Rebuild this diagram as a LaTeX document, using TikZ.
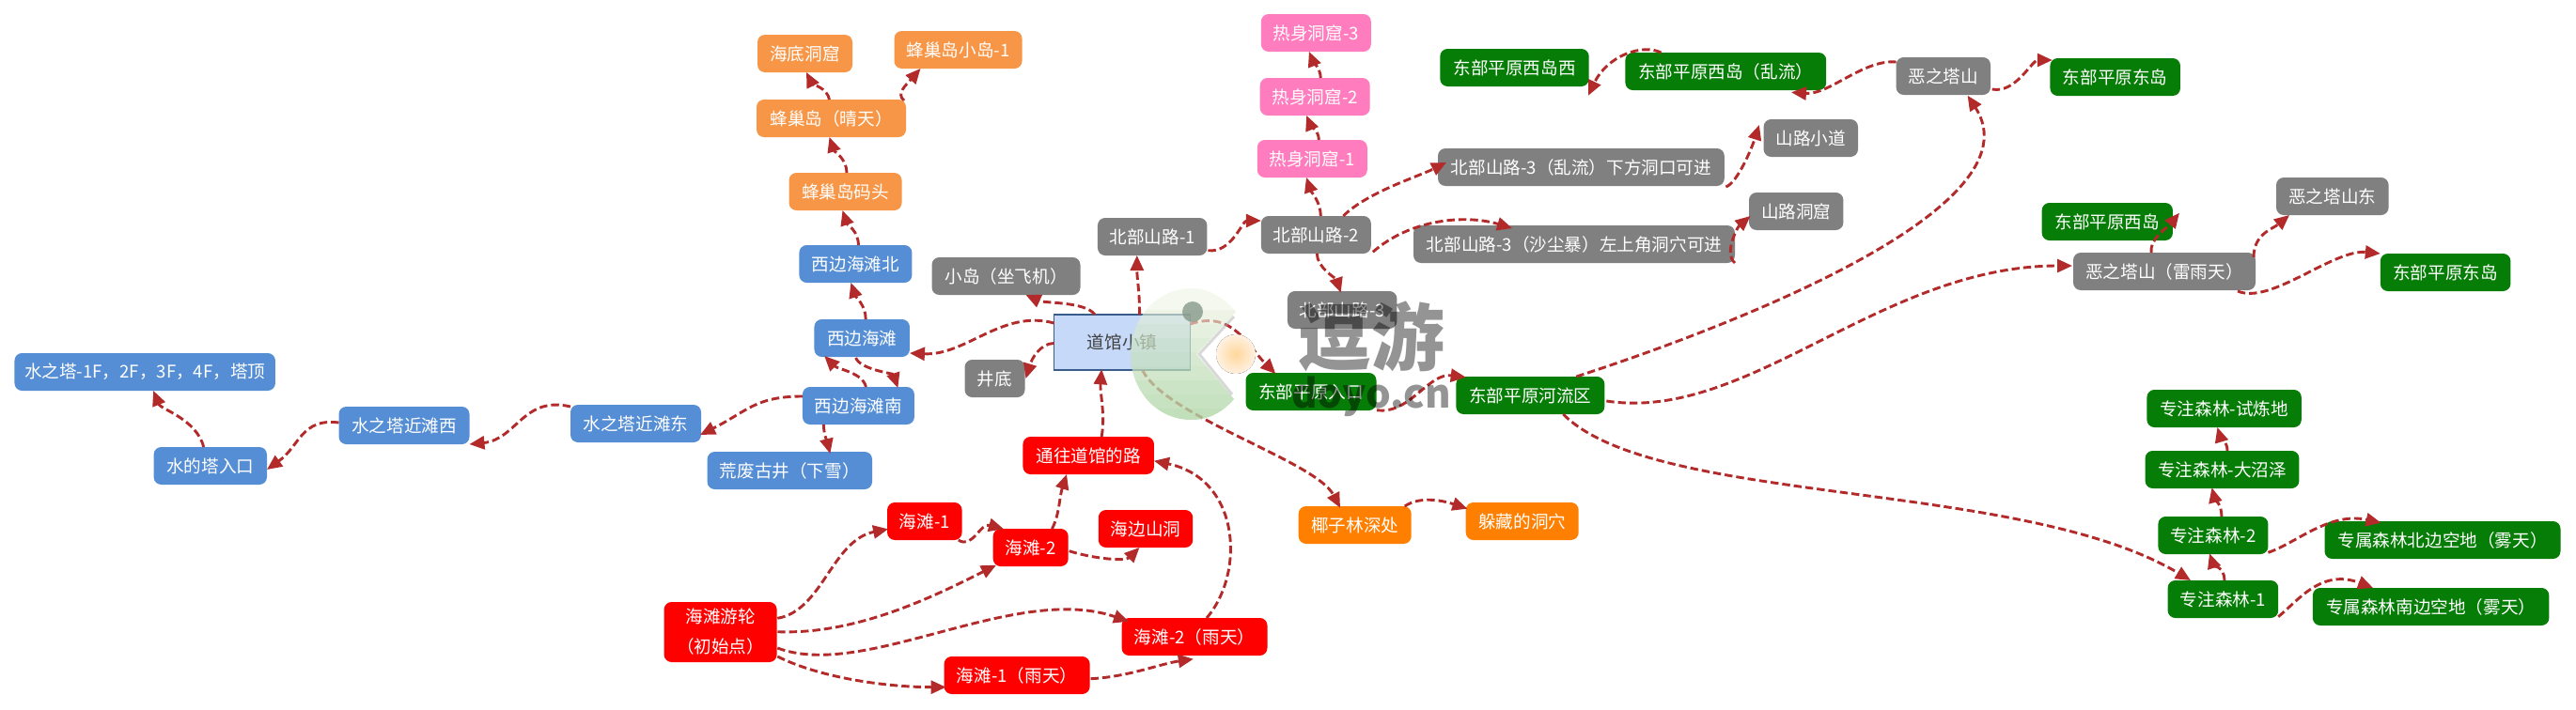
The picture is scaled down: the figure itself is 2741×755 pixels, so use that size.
\documentclass[tikz,border=0pt]{standalone}
\usepackage{fontspec}
\setmainfont{Noto Sans CJK SC}
\usetikzlibrary{arrows.meta}
\definecolor{seablue}{HTML}{558ED5}
\definecolor{hiveorange}{HTML}{F79646}
\definecolor{warmpink}{HTML}{FF7DBE}
\definecolor{palmorange}{HTML}{FF8000}
\definecolor{plaingreen}{HTML}{067D06}
\definecolor{routered}{HTML}{B22A2A}
\definecolor{townfill}{HTML}{C6D9F8}
\definecolor{townline}{HTML}{385D8A}
\definecolor{logotop}{HTML}{EEF4E2}
\definecolor{logobot}{HTML}{8FC98A}
\definecolor{logoeye}{HTML}{7F9384}
\definecolor{ballin}{HTML}{FFD79A}
\definecolor{ballout}{HTML}{FFF1E2}
\begin{document}
\begin{tikzpicture}[>={Triangle[length=8pt,width=7pt]},x=.5pt,y=-.5pt,
	spot/.style={rounded corners=4pt,minimum height=20pt,inner sep=0pt,outer sep=0pt,text=white,font=\fontsize{9.3pt}{16pt}\selectfont,align=center},
	sea/.style={spot,fill=seablue},
	hive/.style={spot,fill=hiveorange},
	warm/.style={spot,fill=warmpink},
	rock/.style={spot,fill=gray},
	plain/.style={spot,fill=plaingreen},
	beach/.style={spot,fill=red},
	palm/.style={spot,fill=palmorange},
	route/.style={->,draw=routered,line width=1.45pt,dash pattern=on 4.2pt off 2pt}]
	\useasboundingbox (0,0) rectangle (2741,755);
	\node [sea,minimum width=138.75pt] at (154.2,396) (tower) {水之塔-1F，2F，3F，4F，塔顶};
	\node [sea,minimum width=60.2pt] at (223.8,496) (towerin) {水的塔入口};
	\node [sea,minimum width=69.5pt] at (430,453) (nearw) {水之塔近滩西};
	\node [sea,minimum width=69.5pt] at (676.5,451) (neare) {水之塔近滩东};
	\node [sea,minimum width=59.5pt] at (913.4,432) (wests) {西边海滩南};
	\node [sea,minimum width=87.7pt] at (840.3,501) (oldwell) {荒废古井（下雪）};
	\node [sea,minimum width=50.75pt] at (917.2,360) (west) {西边海滩};
	\node [sea,minimum width=60pt] at (910.4,281) (westn) {西边海滩北};
	\node [hive,minimum width=60pt] at (899.5,204) (wharf) {蜂巢岛码头};
	\node [hive,minimum width=79.5pt] at (884.5,126) (isle) {蜂巢岛（晴天）};
	\node [hive,minimum width=50.5pt] at (856.5,57) (seacave) {海底洞窟};
	\node [hive,minimum width=68pt] at (1019.5,53) (isleone) {蜂巢岛小岛-1};
	\node [rock,minimum width=79pt] at (1070.5,294) (islet) {小岛（坐飞机）};
	\node [rock,minimum width=32pt] at (1058.5,403) (wellbot) {井底};
	\node [minimum width=72.5pt,minimum height=29.5pt,inner sep=0pt,outer sep=0pt,draw=townline,line width=.6pt,fill=townfill,text=black!75,font=\fontsize{9.3pt}{16pt}\selectfont] at (1194,364.5) (town) {道馆小镇};
	\node [rock,minimum width=58.25pt] at (1226.2,252) (northa) {北部山路-1};
	\node [rock,minimum width=58.5pt] at (1400.3,250) (northb) {北部山路-2};
	\node [rock,minimum width=58.25pt] at (1428.2,330) (northc) {北部山路-3};
	\node [warm,minimum width=58.5pt] at (1396.3,169) (warma) {热身洞窟-1};
	\node [warm,minimum width=58.5pt] at (1399.2,103) (warmb) {热身洞窟-2};
	\node [warm,minimum width=58.5pt] at (1400.3,35) (warmc) {热身洞窟-3};
	\node [rock,minimum width=152.4pt] at (1682.4,178) (turb) {北部山路-3（乱流）下方洞口可进};
	\node [rock,minimum width=171pt] at (1675,260) (sand) {北部山路-3（沙尘暴）左上角洞穴可进};
	\node [rock,minimum width=50.2pt] at (1926.8,147) (trail) {山路小道};
	\node [rock,minimum width=50.2pt] at (1911.2,225) (trailcave) {山路洞窟};
	\node [plain,minimum width=69.5pt] at (1395,417) (eastin) {东部平原入口};
	\node [plain,minimum width=79pt] at (1628.3,421) (river) {东部平原河流区};
	\node [plain,minimum width=79.2pt] at (1611.5,72) (westiw) {东部平原西岛西};
	\node [plain,minimum width=106.9pt] at (1836.3,76) (westi) {东部平原西岛（乱流）};
	\node [rock,minimum width=50.2pt] at (2067.8,81) (evil) {恶之塔山};
	\node [plain,minimum width=69.25pt] at (2250.7,82) (easti) {东部平原东岛};
	\node [plain,minimum width=69.65pt] at (2242.3,236) (westib) {东部平原西岛};
	\node [rock,minimum width=59.8pt] at (2481.8,209) (evile) {恶之塔山东};
	\node [rock,minimum width=97pt] at (2303,289) (evilr) {恶之塔山（雷雨天）};
	\node [plain,minimum width=69.3pt] at (2602.1,290) (eastib) {东部平原东岛};
	\node [plain,minimum width=82.2pt] at (2366.6,435) (trial) {专注森林-试炼地};
	\node [plain,minimum width=81.9pt] at (2364.5,500) (swamp) {专注森林-大沼泽};
	\node [plain,minimum width=58.5pt] at (2354.9,570) (focusb) {专注森林-2};
	\node [plain,minimum width=58.8pt] at (2365.4,638) (focusa) {专注森林-1};
	\node [plain,minimum width=125.5pt] at (2599,575) (plotn) {专属森林北边空地（雾天）};
	\node [plain,minimum width=125.75pt] at (2586.6,646) (plots) {专属森林南边空地（雾天）};
	\node [beach,minimum width=60pt,minimum height=32pt] at (766.6,673) (cruise) {海滩游轮\\（初始点）};
	\node [beach,minimum width=39.75pt] at (983.8,555) (beacha) {海滩-1};
	\node [beach,minimum width=40pt] at (1096.7,583) (beachb) {海滩-2};
	\node [beach,minimum width=50.2pt] at (1219,563) (seahill) {海边山洞};
	\node [beach,minimum width=69.75pt] at (1158.2,485) (toway) {通往道馆的路};
	\node [beach,minimum width=77.5pt] at (1271,678) (beachbr) {海滩-2（雨天）};
	\node [beach,minimum width=77.5pt] at (1082.1,719) (beachar) {海滩-1（雨天）};
	\node [palm,minimum width=60pt] at (1441.7,559) (deep) {椰子林深处};
	\node [palm,minimum width=60pt] at (1619.7,555) (hide) {躲藏的洞穴};
	\draw [route] ([shift={(0,-10)}]wests.west) .. controls +(-50,0) and +(50,-25) .. ([shift={(-1,12)}]neare.east);
	\draw [route] ([shift={(0,-18)}]neare.west) .. controls +(-50,-12) and +(50,-5) .. ([shift={(0,20)}]nearw.east);
	\draw [route] ([shift={(0,-3)}]nearw.west) .. controls +(-40,-5) and +(35,-25) .. ([shift={(0,4)}]towerin.east);
	\draw [route] ([shift={(-7,0)}]towerin.north) .. controls +(-8,-30) and +(8,20) .. ([shift={(9,0)}]tower.south);
	\draw [route] ([shift={(-37,0)}]wests.south) .. controls +(0,10) and +(-3,-12) .. ([shift={(43,2)}]oldwell.north);
	\draw [route] ([shift={(8,0)}]wests.north) .. controls +(-3,-15) and +(14,14) .. ([shift={(-40,-1)}]west.south);
	\draw [route] ([shift={(-6.5,1)}]west.south) .. controls +(4,12) and +(-5,-15) .. ([shift={(42,1)}]wests.north);
	\draw [route] ([shift={(4,0)}]west.north) .. controls +(0,-15) and +(5,15) .. ([shift={(-5,0)}]westn.south);
	\draw [route] ([shift={(3,0)}]westn.north) .. controls +(0,-15) and +(5,15) .. ([shift={(-3,0)}]wharf.south);
	\draw [route] ([shift={(1.5,0)}]wharf.north) .. controls +(0,-15) and +(5,15) .. ([shift={(-2,0)}]isle.south);
	\draw [route] ([shift={(-2,0)}]isle.north) .. controls +(-2,-12) and +(6,12) .. ([shift={(1.5,0)}]seacave.south);
	\draw [route] ([shift={(-2,1)}]isle.north east) .. controls +(-9,-7) and +(-15,17) .. ([shift={(-40,0)}]isleone.south);
	\draw [route] ([shift={(0,-20.5)}]town.west) .. controls +(-55,-15) and +(60,3) .. ([shift={(0,16)}]west.east);
	\draw [route] ([shift={(-29,0)}]town.north) .. controls +(-10,-14) and +(20,9) .. ([shift={(21,0)}]islet.south);
	\draw [route] ([shift={(0,1)}]town.west) .. controls +(-15,0) and +(6,-20) .. ([shift={(1,0)}]wellbot.east);
	\draw [route] ([shift={(18.6,0)}]town.north) .. controls +(0,-25) and +(0,25) .. ([shift={(-16.4,0)}]northa.south);
	\draw [route] ([shift={(0,-19.5)}]town.east) .. controls +(45,-15) and +(-30,-30) .. ([shift={(-37.7,1)}]eastin.north);
	\draw [route] ([shift={(21.5,0)}]town.south) .. controls +(25,50) and +(-26,-50) .. ([shift={(-15.7,1.7)}]deep.north);
	\draw [route] ([shift={(53,0)}]deep.north) .. controls +(15,-10) and +(-30,-10) .. ([shift={(1.7,-13.3)}]hide.west);
	\draw [route] ([shift={(14,0)}]toway.north) .. controls +(4,-25) and +(-2,25) .. ([shift={(-21.8,-.7)}]town.south);
	\draw [route] ([shift={(1,14.7)}]northa.east) .. controls +(25,3) and +(-20,0) .. ([shift={(0,-15)}]northb.west);
	\draw [route] ([shift={(1,0)}]northb.south) .. controls +(0,15) and +(-5,-15) .. ([shift={(-1.5,1.7)}]northc.north);
	\draw [route] ([shift={(5,0)}]northb.north) .. controls +(0,-15) and +(5,15) .. ([shift={(-6.3,0)}]warma.south);
	\draw [route] ([shift={(7,0)}]warma.north) .. controls +(0,-10) and +(4,10) .. ([shift={(-9,0)}]warmb.south);
	\draw [route] ([shift={(6,0)}]warmb.north) .. controls +(0,-10) and +(4,10) .. ([shift={(-7.4,0)}]warmc.south);
	\draw [route] ([shift={(29,0)}]northb.north) .. controls +(25,-25) and +(-30,15) .. ([shift={(9,-5)}]turb.west);
	\draw [route] ([shift={(2,18.3)}]northb.east) .. controls +(40,-35) and +(-50,-15) .. ([shift={(-66,3)}]sand.north);
	\draw [route] ([shift={(1.6,1)}]turb.south east) .. controls +(12,-4) and +(-8,25) .. ([shift={(-4.7,-14)}]trail.west);
	\draw [route] (sand.south east) .. controls +(-12,-10) and +(-14,12) .. ([shift={(1.5,5)}]trailcave.west);
	\draw [route] ([shift={(.5,19.7)}]eastin.east) .. controls +(35,5) and +(-40,-5) .. ([shift={(10.4,-19.3)}]river.west);
	\draw [route] ([shift={(49,0)}]river.north) .. controls +(172.6,-56) and +(76.4,118) .. ([shift={(25.8,.7)}]evil.south);
	\draw [route] ([shift={(2,6)}]river.east) .. controls +(151,23) and +(-204,0) .. ([shift={(-1,-6)}]evilr.west);
	\draw [route] ([shift={(35,0)}]river.south) .. controls +(97,98) and +(-181,-108) .. ([shift={(-34.4,0)}]focusa.north);
	\draw [route] ([shift={(78,1)}]evilr.south) .. controls +(35,15) and +(-50,-5) .. ([shift={(0,-20)}]eastib.west);
	\draw [route] ([shift={(-14,0)}]evilr.north) .. controls +(-2,-15) and +(-12,15) .. ([shift={(7,-9.3)}]westib.east);
	\draw [route] ([shift={(-2,-15)}]evilr.east) .. controls +(0,-25) and +(-18,15) .. ([shift={(-45.8,0)}]evile.south);
	\draw [route] ([shift={(1.7,14)}]evil.east) .. controls +(25,5) and +(-22,0) .. ([shift={(2.3,-18)}]easti.west);
	\draw [route] ([shift={(0,-15)}]evil.west) .. controls +(-35,-3) and +(40,3) .. ([shift={(69.7,2.3)}]westi.south);
	\draw [route] ([shift={(-68.8,0)}]westi.north) .. controls +(-20,-10) and +(20,-42) .. ([shift={(-.7,29.7)}]westiw.east);
	\draw [route] ([shift={(1.6,0)}]focusa.north) .. controls +(0,-14) and +(4,12) .. ([shift={(-3.9,-.7)}]focusb.south);
	\draw [route] ([shift={(9,0)}]focusb.north) .. controls +(0,-14) and +(3,12) .. ([shift={(-11,-.7)}]swamp.south);
	\draw [route] ([shift={(5.5,0)}]swamp.north) .. controls +(0,-10) and +(3,10) .. ([shift={(-7.2,0)}]trial.south);
	\draw [route] ([shift={(0,18.3)}]focusb.east) .. controls +(30,-10) and +(-55,-12) .. ([shift={(-65.5,1.7)}]plotn.north);
	\draw [route] ([shift={(0,18.7)}]focusa.east) .. controls +(21,-17) and +(-55,-21) .. ([shift={(-61.6,0)}]plots.north);
	\draw [route] ([shift={(1,3.7)}]beachb.east) .. controls +(25,8) and +(-15,15) .. ([shift={(-6.6,0)}]seahill.south);
	\draw [route] ([shift={(22.7,0)}]beachb.north) .. controls +(8,-15) and +(-8,25) .. ([shift={(-23.2,0)}]toway.south);
	\draw [route] ([shift={(36,0)}]beacha.south) .. controls +(15,10) and +(-25,-7) .. ([shift={(-28.7,.3)}]beachb.north);
	\draw [route] ([shift={(13,0)}]beachbr.north) .. controls +(41,-48) and +(92,19.3) .. ([shift={(0,5.7)}]toway.east);
	\draw [route] ([shift={(1,3.7)}]beachar.east) .. controls +(40,-2) and +(-35,5) .. ([shift={(-1.2,3.7)}]beachbr.south);
	\draw [route] ([shift={(.7,-14.7)}]cruise.east) .. controls +(48,-8) and +(-60,12) .. ([shift={(1,8.3)}]beacha.west);
	\draw [route] ([shift={(.7,-.3)}]cruise.east) .. controls +(80,3) and +(-75,38) .. ([shift={(3.3,18.7)}]beachb.west);
	\draw [route] ([shift={(.7,17)}]cruise.east) .. controls +(92.7,35) and +(-121,-41.7) .. ([shift={(7.5,-16.3)}]beachbr.west);
	\draw [route] ([shift={(.7,26)}]cruise.east) .. controls +(50,25) and +(-55,0) .. ([shift={(2,12.7)}]beachar.west);
	\begin{scope}
		\clip (1273,377) -- (1315,332) .. controls (1300,315) and (1285,307) .. (1268,307) .. controls (1230,307) and (1203,340) .. (1203,377) .. controls (1203,415) and (1230,447) .. (1268,447) .. controls (1285,447) and (1300,440) .. (1313,425) -- cycle;
		\fill [logotop,fill opacity=.6] (1200,300) rectangle (1320,450);
		\foreach \y in {330,345,...,435}
			\fill [logobot,fill opacity=.08] (1200,\y) rectangle (1320,450);
	\end{scope}
	\draw [gray!60,opacity=.5,line width=1.5pt] (1313,337) -- (1276,377) -- (1311,420);
	\fill [logoeye,opacity=.75] (1269,332) circle [radius=11];
	\fill [inner color=ballin,outer color=ballout] (1315,377) circle [radius=21];
	\node [text=black,text opacity=.42,font=\fontsize{39pt}{39pt}\selectfont\bfseries,inner sep=0pt] at (1459,358) (mark) {逗游};
	\node [text=black,text opacity=.42,font=\fontsize{21pt}{23pt}\selectfont\bfseries,inner sep=0pt] at (1459,422) (site) {doyo.cn};
\end{tikzpicture}
\end{document}
